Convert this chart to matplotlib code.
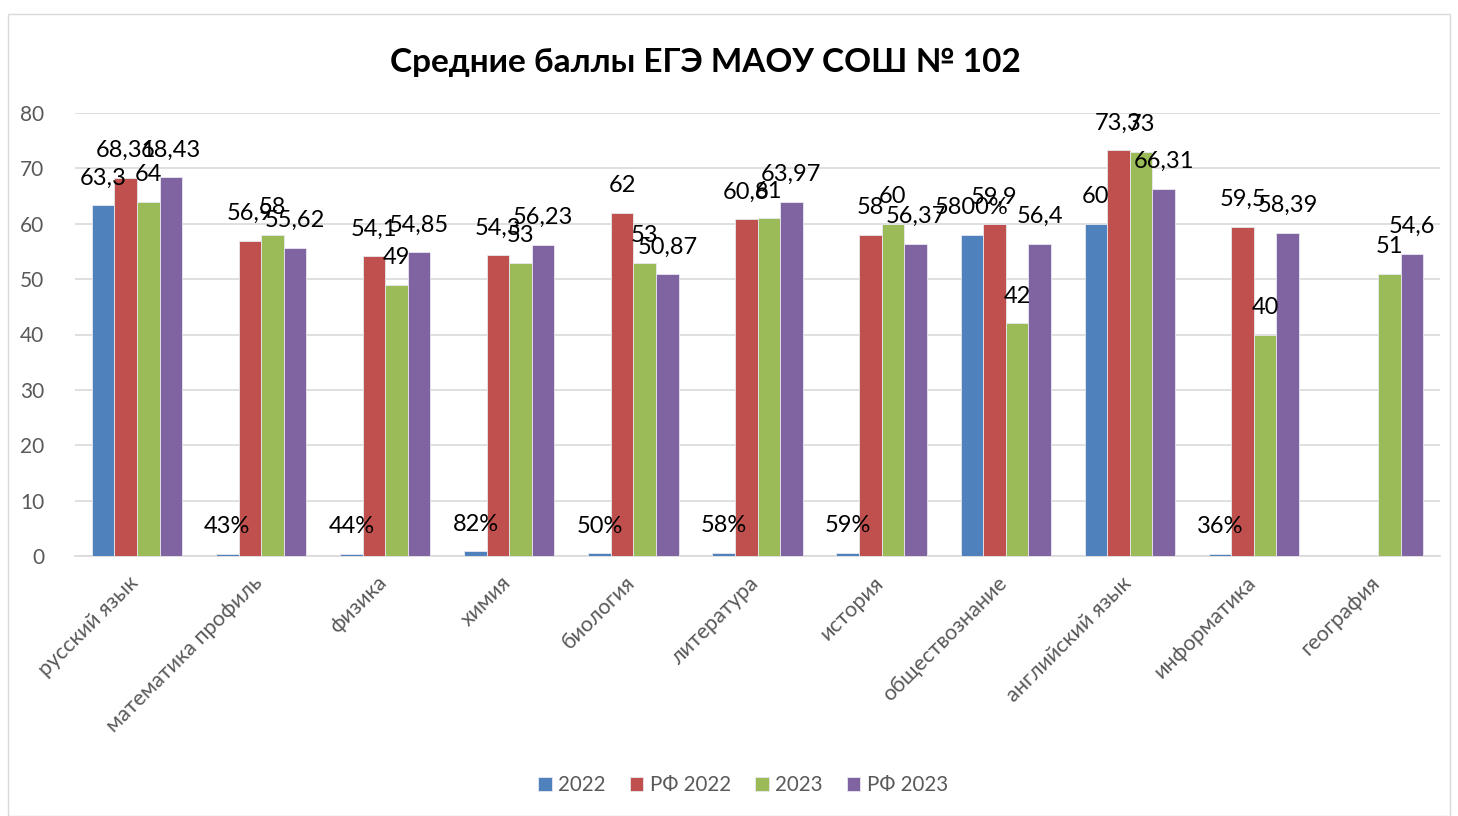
import matplotlib
matplotlib.use("Agg")
import matplotlib.pyplot as plt
import numpy as np
from matplotlib.patches import Rectangle

categories = ["русский язык", "математика профиль", "физика", "химия", "биология",
              "литература", "история", "обществознание", "английский язык",
              "информатика", "география"]
series_names = ["2022", "РФ 2022", "2023", "РФ 2023"]
v2022 = [63.3, 0.43, 0.44, 0.82, 0.50, 0.58, 0.59, 58, 60, 0.36, np.nan]
rf2022 = [68.31, 56.9, 54.1, 54.3, 62, 60.8, 58, 59.9, 73.3, 59.5, np.nan]
v2023 = [64, 58, 49, 53, 53, 61, 60, 42, 73, 40, 51]
rf2023 = [68.43, 55.62, 54.85, 56.23, 50.87, 63.97, 56.37, 56.4, 66.31, 58.39, 54.6]
labels2022 = ["63,3", "43%", "44%", "82%", "50%", "58%", "59%", "5800%", "60", "36%", ""]
yticks = [0, 10, 20, 30, 40, 50, 60, 70, 80]
colors = ["#4F81BD", "#C0504D", "#9BBB59", "#8064A2"]

def fmt(v):
    if np.isnan(v):
        return ""
    s = ("%g" % v).replace(".", ",")
    return s

plt.rcParams['font.family'] = ['Lato', 'DejaVu Sans']
fig = plt.figure(figsize=(14.58, 8.16), dpi=100)
ax = fig.add_axes([75/1458, 1-556/816, (1440-75)/1458, (556-113)/816])

data = [v2022, rf2022, v2023, rf2023]
labels = [labels2022] + [[fmt(v) for v in s] for s in data[1:]]
x = np.arange(len(categories))
w = 0.182
for i, (vals, col, name, labs) in enumerate(zip(data, colors, series_names, labels)):
    pos = x + (i - 1.5) * w
    bars = ax.bar(pos, vals, width=w, color=col, edgecolor="#E8E8F0", linewidth=0.6,
                  label=name, zorder=3)
    for b, lab, v in zip(bars, labs, vals):
        if lab and not np.isnan(v):
            ax.annotate(lab, (b.get_x() + b.get_width()/2, v), xytext=(0, 12),
                        textcoords="offset points", ha="center", va="bottom",
                        fontsize=17, color="black", zorder=5)

ax.set_xlim(-0.5, len(categories) - 0.5)
ax.set_ylim(0, 80)
ax.set_yticks(yticks)
ax.yaxis.grid(True, color="#D9D9D9", linewidth=1.2, zorder=0)
ax.set_axisbelow(True)
for s in ["top", "right", "left"]:
    ax.spines[s].set_visible(False)
ax.spines["bottom"].set_color("#D9D9D9")
ax.spines["bottom"].set_linewidth(1.2)
ax.tick_params(axis="both", length=0, labelsize=15, labelcolor="#595959")
ax.tick_params(axis="y", pad=22)
ax.set_xticks(x - 0.07)
ax.set_xticklabels(categories, rotation=45, ha="right", va="top", rotation_mode="anchor",
                   fontsize=15.5)
ax.tick_params(axis="x", pad=12)

fig.text(705/1458, 1-62/816, "Средние баллы ЕГЭ МАОУ СОШ № 102", ha="center", va="center",
         fontsize=24, fontweight="bold", color="black")

leg = fig.legend(loc="center", bbox_to_anchor=(743/1458, 1-785/816), ncol=4, frameon=False,
                 fontsize=14.8, handlelength=0.65, handleheight=0.65, columnspacing=1.2,
                 handletextpad=0.3)
for t in leg.get_texts():
    t.set_color("#595959")

fig.patches.append(Rectangle((8/1458, 0), 1 - 16/1458, 1 - 14/816, transform=fig.transFigure,
                             fill=False, edgecolor="#D9D9D9", linewidth=1))
fig.savefig("out.png", dpi=100)
